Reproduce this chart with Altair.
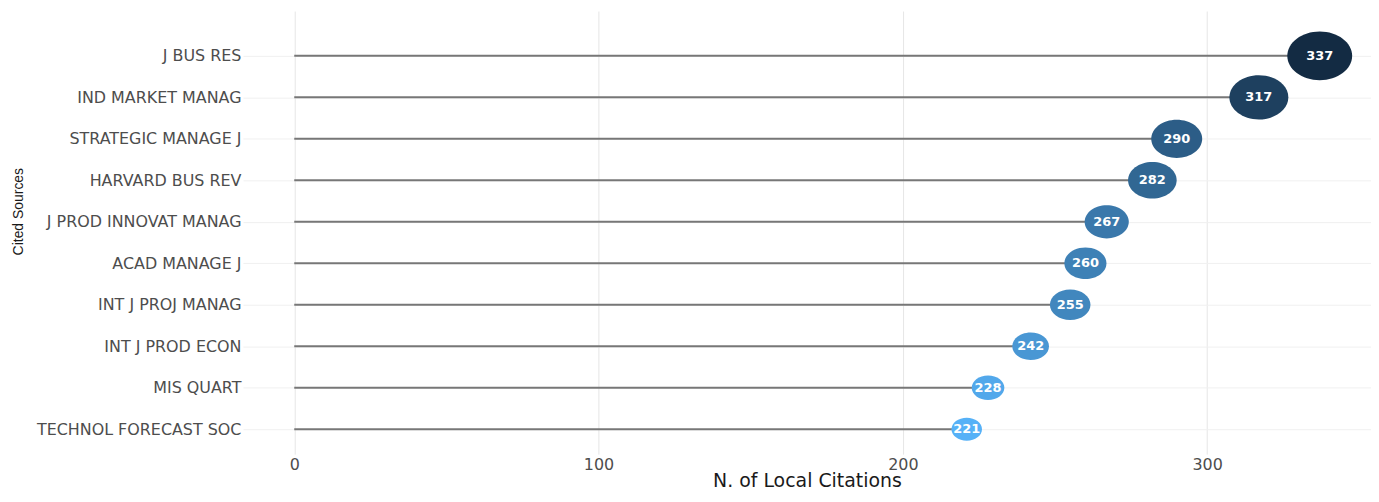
import altair as alt
import pandas as pd

sources = ["J BUS RES", "IND MARKET MANAG", "STRATEGIC MANAGE J", "HARVARD BUS REV",
           "J PROD INNOVAT MANAG", "ACAD MANAGE J", "INT J PROJ MANAG",
           "INT J PROD ECON", "MIS QUART", "TECHNOL FORECAST SOC"]
citations = [337, 317, 290, 282, 267, 260, 255, 242, 228, 221]
x_ticks = [0, 100, 200, 300]

df = pd.DataFrame({"source": sources, "citations": citations})

ellipse = "M-1.33,0A1.33,1,0,1,0,1.33,0A1.33,1,0,1,0,-1.33,0Z"

x_scale = alt.Scale(domain=[-16.85, 353.85], nice=False, zero=False)
y_scale = alt.Scale(type="point", padding=0.84, align=0.643)

x_axis = alt.Axis(
    title="N. of Local Citations", values=x_ticks, grid=True, gridColor="#E6E6E6",
    ticks=False, domain=False, labelFont="DejaVu Sans", labelFontSize=16,
    labelColor="#4D4D4D", labelPadding=2, titleFont="DejaVu Sans", titleFontSize=19,
    titleFontWeight="normal", titleColor="#1A1A1A", titlePadding=0,
)
y_axis = alt.Axis(
    title="Cited Sources", grid=True, gridColor="#F0F0F0", ticks=False, domain=False,
    labelFont="DejaVu Sans", labelFontSize=16, labelColor="#4D4D4D", labelPadding=2,
    labelLimit=400,
    titleFont="Liberation Sans", titleFontSize=14, titleFontWeight="normal",
    titleColor="#1A1A1A", titleAngle=270, titleX=-225, titleY=201,
    titleAlign="center", titleBaseline="middle",
)

base = alt.Chart(df).transform_calculate(zero="0", d="datum.citations - 118")

y_enc = alt.Y("source:N", sort=sources, scale=y_scale, axis=y_axis)

rules = base.mark_rule(color="#777777", strokeWidth=2).encode(
    x=alt.X("zero:Q", scale=x_scale, axis=x_axis),
    x2="citations:Q",
    y=y_enc,
)

points = base.mark_point(shape=ellipse, filled=True, opacity=1).encode(
    x=alt.X("citations:Q", scale=x_scale, axis=x_axis),
    y=y_enc,
    size=alt.Size("d:Q", scale=alt.Scale(type="pow", exponent=2, domain=[0, 219],
                                         range=[0, 2401], zero=True), legend=None),
    color=alt.Color("citations:Q", scale=alt.Scale(domain=[221, 337],
                                                   range=["#56B1F7", "#132B43"],
                                                   interpolate="lab"), legend=None),
)

labels = base.mark_text(color="white", font="DejaVu Sans", fontWeight="bold",
                        fontSize=13, align="center", baseline="middle").encode(
    x=alt.X("citations:Q", scale=x_scale, axis=x_axis),
    y=y_enc,
    text=alt.Text("citations:Q"),
)

chart = alt.layer(rules, points, labels).properties(
    width=1133, height=445,
    padding={"left": 4, "top": 2, "right": 0, "bottom": 0},
    background="white",
).configure_view(strokeWidth=0)

chart.save("out.html", embed_options={"renderer": "svg", "actions": False})
